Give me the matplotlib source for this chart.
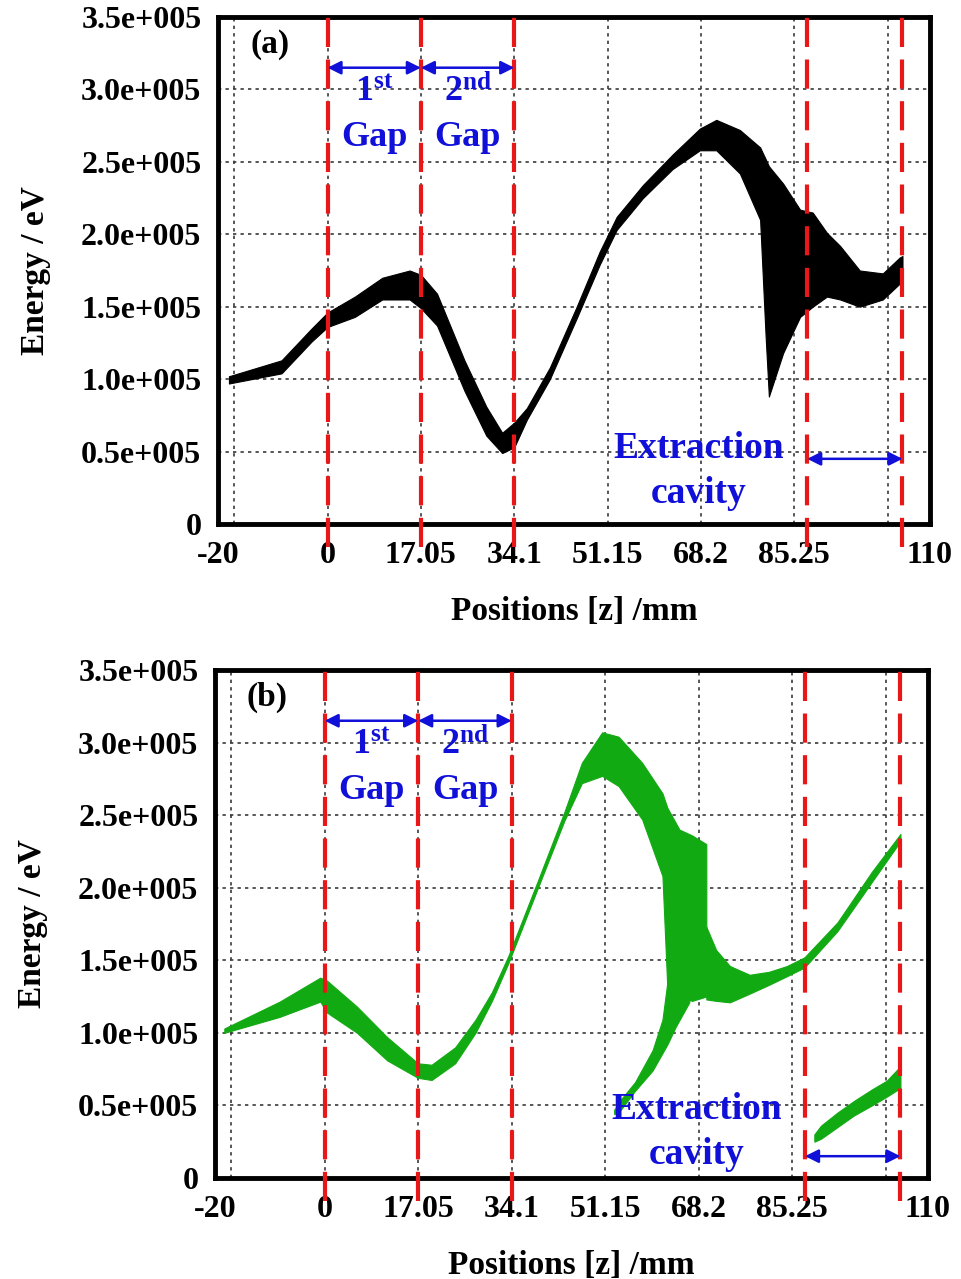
import matplotlib
matplotlib.use("Agg")
import matplotlib.pyplot as plt
import matplotlib.transforms as mtransforms

plt.rcParams['font.family'] = 'Liberation Serif'
plt.rcParams['font.weight'] = 'bold'
plt.rcParams['axes.labelweight'] = 'bold'
plt.rcParams['mathtext.fontset'] = 'custom'
plt.rcParams['mathtext.rm'] = 'Liberation Serif:bold'
plt.rcParams['mathtext.bf'] = 'Liberation Serif:bold'
plt.rcParams['mathtext.it'] = 'Liberation Serif:bold'

# axis ticks
xtick_pos = [-20, 0, 17.05, 34.1, 51.15, 68.2, 85.25, 110]
xtick_lab = ["-20", "0", "17.05", "34.1", "51.15", "68.2", "85.25", "110"]
xgrid = [-17.05, 0, 17.05, 34.1, 51.15, 68.2, 85.25, 102.3]
ytick_pos = [0, 0.5e5, 1.0e5, 1.5e5, 2.0e5, 2.5e5, 3.0e5, 3.5e5]
ytick_lab = ["0", "0.5e+005", "1.0e+005", "1.5e+005", "2.0e+005",
             "2.5e+005", "3.0e+005", "3.5e+005"]
ygrid = [0.5e5, 1.0e5, 1.5e5, 2.0e5, 2.5e5, 3.0e5]
gap_lines = [0, 17.05, 34.1, 87.6, 105]

# (a) particle energy envelope, energy in 1e5 eV
z_a = [-18, -8.4, -2.9, 0, 5, 10, 15, 17.05, 20, 25, 29, 31.9, 34.1, 36.4,
       40.6, 45.5, 49.7, 52.8, 57.6, 63, 68, 71, 75.3, 79, 79.5, 80, 80.6,
       83.2, 86.3, 88.6, 91.2, 93.6, 97.2, 101.4, 104.5, 105]
lo_a = [0.97, 1.04, 1.26, 1.36, 1.43, 1.55, 1.55, 1.49, 1.37, 0.92, 0.61,
        0.49, 0.53, 0.72, 1.00, 1.42, 1.79, 2.03, 2.25, 2.45, 2.58, 2.58,
        2.42, 2.10, 1.70, 1.30, 0.88, 1.18, 1.43, 1.50, 1.57, 1.55, 1.50,
        1.55, 1.66, 1.70]
hi_a = [1.02, 1.13, 1.35, 1.46, 1.57, 1.70, 1.75, 1.72, 1.59, 1.13, 0.81,
        0.63, 0.70, 0.80, 1.08, 1.50, 1.88, 2.12, 2.34, 2.55, 2.73, 2.79,
        2.72, 2.60, 2.56, 2.52, 2.47, 2.35, 2.17, 2.15, 2.01, 1.92, 1.75,
        1.73, 1.84, 1.85]

# (b) main band
z_b = [-18.3, -8.2, -0.8, 0.4, 5.9, 11.4, 17, 19.5, 23.8, 27.5, 30.5, 33.5,
       38.9, 43.7, 46.9, 50.6, 53.6, 57.9, 61.6, 62.5, 64.7, 67, 69.6]
lo_b = [1.00, 1.11, 1.215, 1.14, 1.00, 0.81, 0.69, 0.675, 0.79, 1.00, 1.22,
        1.48, 2.00, 2.46, 2.72, 2.77, 2.70, 2.47, 2.08, 1.30, 1.25, 1.22, 1.25]
hi_b = [1.03, 1.215, 1.38, 1.36, 1.18, 0.97, 0.79, 0.78, 0.90, 1.09, 1.28,
        1.53, 2.05, 2.52, 2.86, 3.07, 3.04, 2.86, 2.65, 2.55, 2.40, 2.36, 2.30]
# (b) slow particles tail
z_t = [52.8, 54.0, 56.6, 59.8, 61.6, 62.5, 64.0, 66.5]
lo_t = [0.44, 0.47, 0.60, 0.74, 0.86, 0.92, 1.04, 1.21]
hi_t = [0.47, 0.54, 0.66, 0.88, 1.09, 1.35, 1.35, 1.30]
# (b) right branch
z_r = [69.6, 71.4, 73.9, 77.5, 81, 84.3, 87.5, 93.5, 99.8, 105]
lo_r = [1.23, 1.22, 1.21, 1.27, 1.33, 1.39, 1.45, 1.70, 2.04, 2.32]
hi_r = [1.73, 1.57, 1.46, 1.40, 1.42, 1.46, 1.52, 1.76, 2.11, 2.37]
# (b) low branch in extraction cavity
z_e = [89.3, 90.5, 93.5, 96.5, 99.8, 102.5, 105.0]
lo_e = [0.25, 0.27, 0.35, 0.43, 0.50, 0.56, 0.62]
hi_e = [0.30, 0.36, 0.45, 0.53, 0.61, 0.67, 0.77]

BLUE = "#1010d8"
RED = "#e81818"
GREEN = "#12aa12"


def band(ax, z, lo, hi, color):
    ax.fill_between(z, [v * 1e5 for v in lo], [v * 1e5 for v in hi],
                    facecolor=color, edgecolor=color, lw=0.8, zorder=3)


def setup(ax, tag, ext_y, arr_y, cav_y):
    ax.set_xlim(-20, 110)
    ax.set_ylim(0, 3.5e5)
    ax.set_xticks(xtick_pos)
    ax.set_xticklabels(xtick_lab)
    ax.set_yticks(ytick_pos)
    ax.set_yticklabels(ytick_lab)
    ax.tick_params(length=0, labelsize=23, pad=12)
    for g in xgrid:
        ax.axvline(g, color="#3a3a3a", ls=(0, (2, 2.5)), lw=1.2, zorder=1)
    for g in ygrid:
        ax.axhline(g, color="#3a3a3a", ls=(0, (2, 2.5)), lw=1.2, zorder=1)
    for s in ax.spines.values():
        s.set_linewidth(3.5)
    ax.set_xlabel("Positions [z] /mm", fontsize=24, labelpad=19)
    ax.set_ylabel("Energy / eV", fontsize=24, labelpad=22)

    tr = mtransforms.blended_transform_factory(ax.transData, ax.transAxes)
    for g in gap_lines:
        ax.plot([g, g], [-0.045, 1.0], transform=tr, color=RED, lw=3,
                ls=(0, (7, 3)), clip_on=False, zorder=4)

    arrow = dict(arrowstyle="<|-|>", color=BLUE, lw=1.8, mutation_scale=20,
                 shrinkA=0, shrinkB=0)
    ax.annotate("", xy=(0, 3.15e5), xytext=(17.05, 3.15e5), arrowprops=arrow,
                zorder=5)
    ax.annotate("", xy=(17.05, 3.15e5), xytext=(34.1, 3.15e5),
                arrowprops=arrow, zorder=5)
    ax.annotate("", xy=(87.6, arr_y), xytext=(105, arr_y), arrowprops=arrow,
                zorder=5)

    ax.text(8.5, 2.98e5, r"$\mathbf{1^{st}}$", color=BLUE, fontsize=26,
            ha="center", va="center", zorder=6)
    ax.text(8.5, 2.67e5, "Gap", color=BLUE, fontsize=26,
            ha="center", va="center", zorder=6)
    ax.text(25.6, 2.98e5, r"$\mathbf{2^{nd}}$", color=BLUE, fontsize=26,
            ha="center", va="center", zorder=6)
    ax.text(25.6, 2.67e5, "Gap", color=BLUE, fontsize=26,
            ha="center", va="center", zorder=6)
    ax.text(67.8, ext_y, "Extraction", color=BLUE, fontsize=27,
            ha="center", va="center", zorder=6)
    ax.text(67.8, cav_y, "cavity", color=BLUE, fontsize=27,
            ha="center", va="center", zorder=6)
    ax.text(-10.5, 3.31e5, tag, color="black", fontsize=24,
            ha="center", va="center", zorder=6)


fig = plt.figure(figsize=(9.62, 12.79), dpi=100)
ax1 = fig.add_axes([0.2266, 0.5903, 0.740, 0.3964])
ax2 = fig.add_axes([0.2235, 0.0790, 0.741, 0.3972])

band(ax1, z_a, lo_a, hi_a, "black")
setup(ax1, "(a)", 0.52e5, 0.45e5, 0.21e5)

band(ax2, z_b, lo_b, hi_b, GREEN)
band(ax2, z_t, lo_t, hi_t, GREEN)
band(ax2, z_r, lo_r, hi_r, GREEN)
band(ax2, z_e, lo_e, hi_e, GREEN)
setup(ax2, "(b)", 0.47e5, 0.15e5, 0.16e5)

fig.savefig("out.png", dpi=100)
